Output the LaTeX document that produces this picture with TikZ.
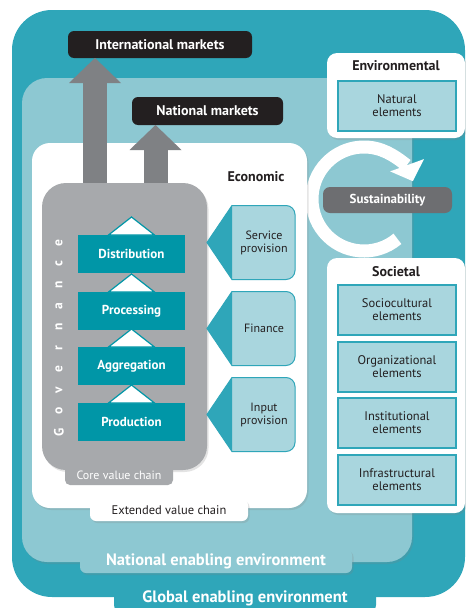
\documentclass[tikz,border=0pt]{standalone}
\usepackage{fontspec}
\setmainfont{PT Sans}
\usetikzlibrary{arrows.meta,shadows}

\definecolor{globalteal}{HTML}{2FA6B9}
\definecolor{nationalteal}{HTML}{8DC8D2}
\definecolor{stageteal}{HTML}{0096A7}
\definecolor{elemfill}{HTML}{A9D6DE}
\definecolor{coregrey}{HTML}{A7A9AC}
\definecolor{arrowgrey}{HTML}{7F8184}
\definecolor{labeldark}{HTML}{231F20}
\definecolor{sustgrey}{HTML}{6D6E71}

\begin{document}
\begin{tikzpicture}[x=1pt, y=-1pt,
  every node/.style={inner sep=0pt, outer sep=0pt},
  boxshadow/.style={drop shadow={shadow xshift=1.5pt, shadow yshift=-2pt, opacity=0.22}},
  envtab/.style={rounded corners=6pt, minimum height=24pt, text=white, font=\fontsize{16.5}{18}\selectfont\bfseries},
  market/.style={fill=labeldark, rounded corners=6pt, minimum height=27pt, text=white, font=\fontsize{14}{16}\selectfont\bfseries},
  stage/.style={fill=stageteal, minimum width=107pt, minimum height=38pt, text=white, font=\fontsize{13}{15}\selectfont\bfseries},
  support/.style={fill=elemfill, draw=globalteal, line width=1pt},
  supporttext/.style={align=center, text=labeldark, font=\fontsize{12}{13}\selectfont},
  element/.style={fill=elemfill, draw=globalteal, line width=1.2pt, minimum width=118pt, minimum height=50pt, align=center, text=labeldark, font=\fontsize{12.5}{13}\selectfont},
  title/.style={text=labeldark, font=\fontsize{14}{16}\selectfont\bfseries},
  marketarrow/.style={arrowgrey, line width=24pt, -{Triangle[width=52pt, length=25pt, line width=0pt]}}
]
\useasboundingbox (0,0) rectangle (466,608);

% Global enabling environment
\node[fill=globalteal, rounded corners=40pt, minimum width=453pt, minimum height=587pt] (global) at (238.5,303.5) {};
\node[envtab, fill=globalteal, minimum width=262pt, minimum height=26pt] (globaltab) at (245,598) {Global enabling environment};

% National enabling environment
\node[fill=nationalteal, rounded corners=25pt, minimum width=390pt, minimum height=484pt, boxshadow] (national) at (217,320) {};
\node[envtab, fill=nationalteal, minimum width=272pt, boxshadow] (nationaltab) at (216,561) {National enabling environment};

% Sustainability
\coordinate (ringc) at (364,199);
\fill[nationalteal] (ringc) circle[radius=46pt];
\draw[white, line width=13pt, -{Triangle[width=36pt, length=17pt, line width=0pt]}] (ringc) ++(-50:52pt) arc[start angle=-50, end angle=-340, radius=52pt];
\node[fill=sustgrey, rounded corners=7pt, minimum width=129pt, minimum height=26pt, text=white, font=\fontsize{13}{15}\selectfont\bfseries] (sust) at (387.5,200) {Sustainability};

% Extended value chain
\node[fill=white, rounded corners=18pt, minimum width=275pt, minimum height=365pt, boxshadow] (economic) at (169.5,325.5) {};
\node[fill=white, rounded corners=6pt, minimum width=158pt, minimum height=22pt, boxshadow, text=labeldark, font=\fontsize{12.5}{14}\selectfont] (exttab) at (169,510) {Extended value chain};
\node[title] (econtitle) at (256,177) {Economic};

% Markets
\node[market, minimum width=184pt] (intl) at (160,44.5) {International markets};
\node[market, minimum width=151pt, minimum height=28pt] (natl) at (207.5,111) {National markets};
\coordinate (a1) at (95,200);
\coordinate (a2) at (155.5,200);
\draw[marketarrow] (a1) -- (a1 |- intl.south);
\draw[marketarrow] (a2) -- (a2 |- natl.south);

% Core value chain
\node[fill=coregrey, rounded corners=24pt, minimum width=165pt, minimum height=287pt, boxshadow] (core) at (124.5,326.5) {};
\node[fill=coregrey, rounded corners=5pt, minimum width=108pt, minimum height=20pt, text=white, font=\fontsize{12}{14}\selectfont] (coretab) at (119,475) {Core value chain};
\foreach \ch [count=\i] in {G,o,v,e,r,n,a,n,c,e}
  \node[rotate=90, text=white, font=\fontsize{13.5}{14}\selectfont\bfseries] (gov\i) at (59,453-\i*21) {\ch};

% Stages
\foreach \y/\txt/\nm in {254/Distribution/dist, 311/Processing/proc, 366/Aggregation/aggr, 422/Production/prod}
  \node[stage] (\nm) at (131.5,\y) {\txt};
\foreach \nm in {dist, proc, aggr, prod}
  \draw[fill=white, draw=stageteal, line width=1.2pt] ([xshift=-23pt]\nm.north) -- ([yshift=18pt]\nm.north) -- ([xshift=23pt]\nm.north) -- cycle;

% Supporting services
\foreach \y/\txt/\nm in {242.5/{Service\\provision}/service, 328.5/Finance/finance, 414.5/{Input\\provision}/input} {
  \draw[support] (207,\y) -- (232,\y-37) [rounded corners=9pt] -- (295,\y-37) -- (295,\y+37) [sharp corners] -- (232,\y+37) -- cycle;
  \fill[globalteal] (207,\y) -- (232,\y-37) -- (232,\y+37) -- cycle;
  \node[supporttext] (\nm) at (264,\y) {\txt};
}

% Environmental
\node[fill=white, rounded corners=10pt, minimum width=138pt, minimum height=85pt, boxshadow] (envbox) at (396,95.5) {};
\node[title] (envtitle) at (396,66) {Environmental};
\node[element] (natural) at (397,106) {Natural\\elements};

% Societal
\node[fill=white, rounded corners=10pt, minimum width=138pt, minimum height=255pt, boxshadow] (socbox) at (396,385.5) {};
\node[title] (soctitle) at (396,272) {Societal};
\foreach \y/\txt/\nm in {310/Sociocultural/socio, 367/Organizational/org, 423/Institutional/inst, 480/Infrastructural/infra}
  \node[element] (\nm) at (397,\y) {\txt\\elements};
\end{tikzpicture}
\end{document}
